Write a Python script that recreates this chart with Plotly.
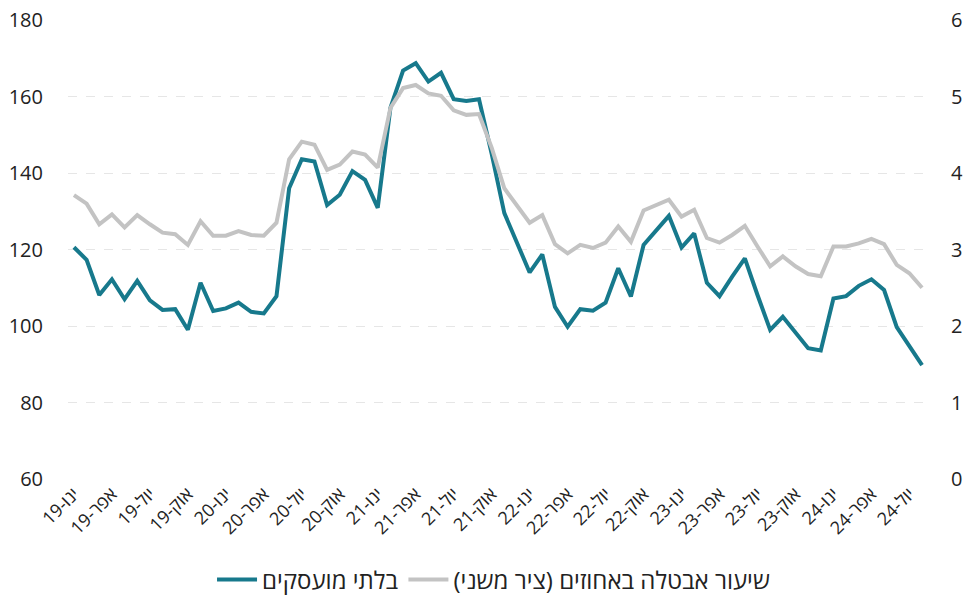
import plotly.graph_objects as go

# Monthly data Jan 2019 - Aug 2024
months = ["ינו", "פבר", "מרץ", "אפר", "מאי", "יונ", "יול", "אוג", "ספט", "אוק", "נוב", "דצמ"]
years = ["19", "20", "21", "22", "23", "24"]
n_points = 68
labels = [f"{months[i % 12]}-{years[i // 12]}" for i in range(n_points)]

unemployed = [
    120.6, 117.3, 108.1, 112.2, 107.0, 111.8, 106.7, 104.2, 104.4, 99.0, 111.3, 103.9,
    104.6, 106.1, 103.7, 103.3, 107.8, 136.0, 143.6, 143.0, 131.6, 134.3, 140.5, 138.2,
    130.9, 157.0, 166.8, 168.7, 163.9, 166.2, 159.3, 158.8, 159.3, 145.0, 129.5, 121.6,
    114.0, 118.7, 105.0, 99.8, 104.4, 104.0, 106.1, 115.1, 107.7, 121.2, 125.1, 128.8,
    120.5, 124.2, 111.3, 107.8, 112.9, 117.7, 108.1, 99.0, 102.4, 98.3, 94.2, 93.6,
    107.2, 107.8, 110.5, 112.2, 109.4, 99.7, 94.8, 89.8,
]

unemployment_rate = [
    3.71, 3.60, 3.33, 3.46, 3.29, 3.45, 3.33, 3.22, 3.20, 3.06, 3.37, 3.18,
    3.18, 3.24, 3.19, 3.18, 3.35, 4.18, 4.41, 4.37, 4.04, 4.11, 4.28, 4.24,
    4.07, 4.85, 5.11, 5.15, 5.04, 5.01, 4.82, 4.76, 4.77, 4.33, 3.80, 3.58,
    3.35, 3.45, 3.07, 2.95, 3.06, 3.02, 3.09, 3.30, 3.10, 3.51, 3.58, 3.65,
    3.43, 3.52, 3.15, 3.09, 3.19, 3.31, 3.04, 2.78, 2.91, 2.78, 2.68, 2.65,
    3.04, 3.04, 3.08, 3.14, 3.07, 2.80, 2.69, 2.50,
]

tick_labels = labels[::3]

name_unemployed = "בלתי מועסקים"
name_rate = "שיעור אבטלה באחוזים (ציר משני)\u200f"

TEAL = "#17798c"
GRAY = "#c3c3c3"
FONT = "Open Sans"

fig = go.Figure()
fig.add_trace(go.Scatter(
    x=labels, y=unemployed, name=name_unemployed, mode="lines",
    line=dict(color=TEAL, width=4), yaxis="y",
))
fig.add_trace(go.Scatter(
    x=labels, y=unemployment_rate, name=name_rate, mode="lines",
    line=dict(color=GRAY, width=4), yaxis="y2",
))

fig.update_layout(
    width=964, height=596,
    margin=dict(l=68, r=36, t=20, b=117, autoexpand=False),
    paper_bgcolor="white", plot_bgcolor="white",
    font=dict(family=FONT, size=20, color="#222222"),
    showlegend=True,
    legend=dict(orientation="h", x=0.4948, xanchor="center", y=-0.22, yanchor="middle",
                font=dict(size=24, family=FONT), itemwidth=40, tracegroupgap=0,
                borderwidth=0),
    xaxis=dict(
        type="category", range=[-0.47, n_points - 1 + 0.47], automargin=False,
        tickmode="array", tickvals=tick_labels, ticktext=tick_labels,
        tickangle=-45, showgrid=False, showline=False, zeroline=False,
        ticks="", tickfont=dict(size=18, family=FONT),
    ),
    yaxis=dict(
        range=[60, 180], dtick=20, tick0=60, showgrid=True, automargin=False,
        gridcolor="#e6e6e6", griddash="dash", gridwidth=1,
        zeroline=False, showline=False, ticks="", ticklabelstandoff=24,
        tickfont=dict(size=20, family=FONT),
    ),
    yaxis2=dict(
        range=[0, 6], dtick=1, tick0=0, overlaying="y", side="right", automargin=False,
        showgrid=False, zeroline=False, showline=False, ticks="",
        ticklabelstandoff=22, tickfont=dict(size=20, family=FONT),
    ),
)

fig.write_html(
    "out.html",
    config={"displayModeBar": False},
    post_script="document.body.style.margin='0';document.body.style.overflow='hidden';",
)
